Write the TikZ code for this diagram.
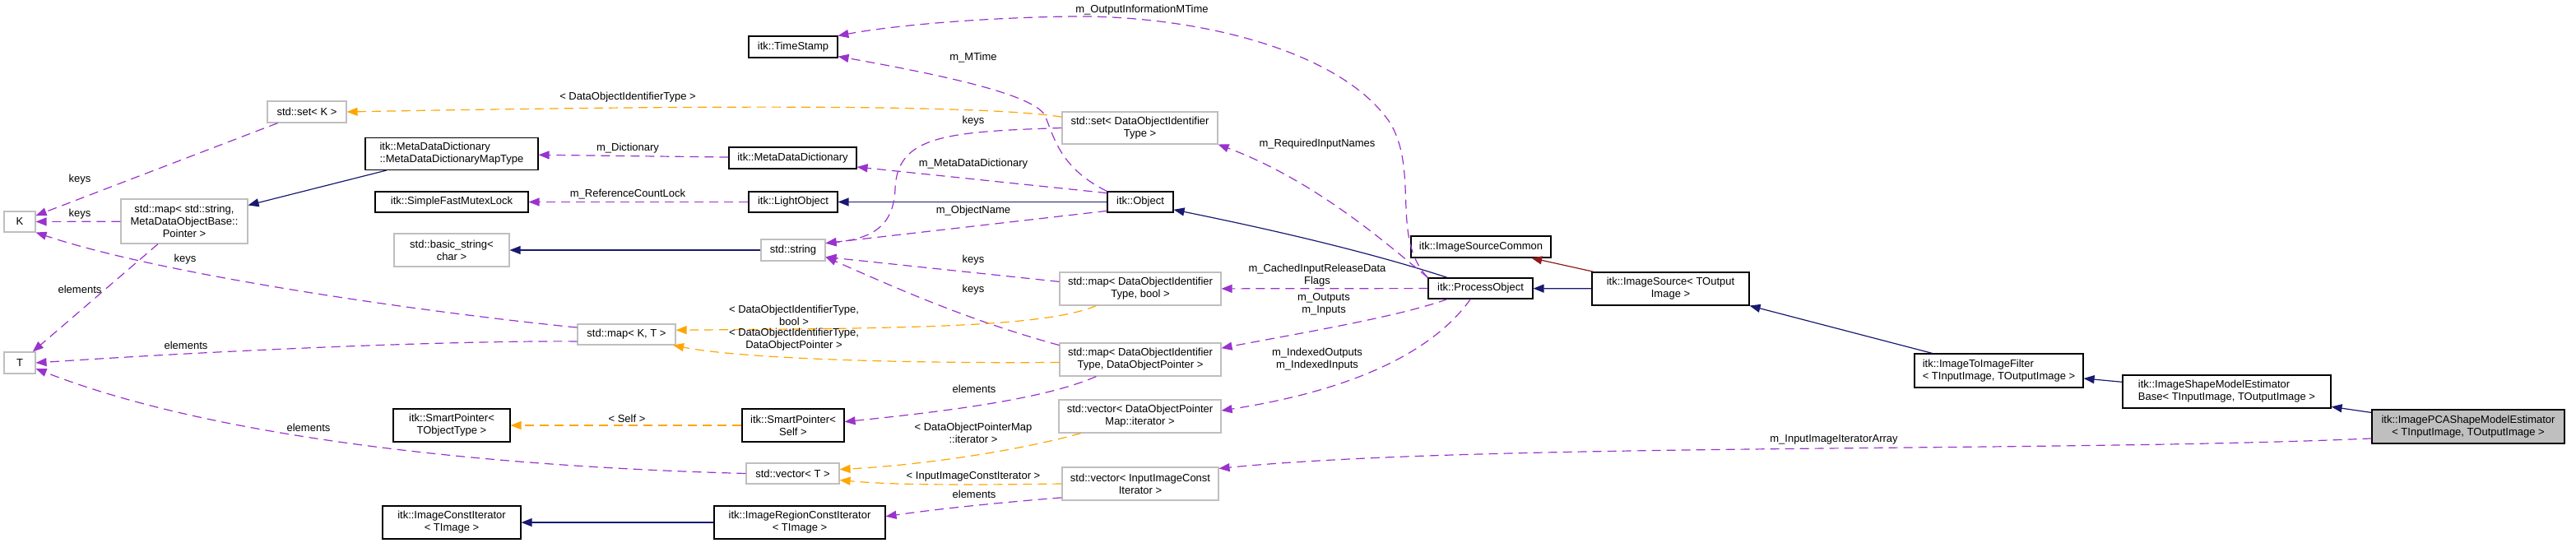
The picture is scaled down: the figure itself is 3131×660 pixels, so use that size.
\documentclass[tikz,border=0pt]{standalone}
\usepackage{fontspec}
\setmainfont{Liberation Sans}
\usetikzlibrary{arrows.meta}

\definecolor{usecol}{HTML}{9A32CD}
\definecolor{tplcol}{HTML}{FFA500}
\definecolor{inhcol}{HTML}{191970}
\definecolor{privcol}{HTML}{8B1A1A}
\definecolor{undoc}{HTML}{BFBFBF}

\tikzset{every picture/.style={line width=1.2pt}}
\tikzset{
  cls/.style={draw=black, rectangle, inner sep=0pt, align=center, line width=1.1pt, font=\fontsize{13}{15}\selectfont},
  undoccls/.style={cls, draw=undoc},
  lbl/.style={inner sep=0pt, align=center, font=\fontsize{13}{15}\selectfont},
  tip/.style={-{Triangle[length=13pt,width=10pt]}},
  uses/.style={tip, color=usecol, dash pattern=on 11pt off 7pt},
  tpl/.style={tip, color=tplcol, dash pattern=on 11pt off 7pt},
  inh/.style={tip, color=inhcol},
  priv/.style={tip, color=privcol}
}

\begin{document}
\begin{tikzpicture}[x=1pt,y=1pt,yscale=-1,xscale=1]
	\useasboundingbox (0,0) rectangle (3131,660);

	% Class boxes, left column
	\draw (24,269.5) node [undoccls, minimum width=38, minimum height=25] (K) {K};
	\draw (24,441) node [undoccls, minimum width=38, minimum height=26] (T) {T};
	\draw (373,136) node [undoccls, minimum width=96, minimum height=26] (setK) {std::set< K >};
	\draw (224,269) node [undoccls, minimum width=154, minimum height=54] (mapstr) {std::map< std::string,\\ MetaDataObjectBase::\\ Pointer >};

	% Class boxes, second column
	\draw (549,187) node [cls, align=left, minimum width=210, minimum height=39] (mddmap) {itk::MetaDataDictionary\\ ::MetaDataDictionaryMapType};
	\draw (549,245.5) node [cls, minimum width=186, minimum height=25] (mutex) {itk::SimpleFastMutexLock};
	\draw (549,304) node [undoccls, minimum width=140, minimum height=40] (basicstr) {std::basic\_string<\\ char >};
	\draw (549,517) node [cls, minimum width=142, minimum height=40] (sptrT) {itk::SmartPointer<\\ TObjectType >};
	\draw (549,635) node [cls, minimum width=168, minimum height=40] (imgci) {itk::ImageConstIterator\\ < TImage >};
	\draw (761.5,406.5) node [undoccls, minimum width=119, minimum height=25] (mapKT) {std::map< K, T >};

	% Class boxes, third column
	\draw (964,57) node [cls, minimum width=108, minimum height=26] (timestamp) {itk::TimeStamp};
	\draw (963.5,192) node [cls, minimum width=155, minimum height=26] (mdd) {itk::MetaDataDictionary};
	\draw (964,245.5) node [cls, minimum width=108, minimum height=25] (lightobj) {itk::LightObject};
	\draw (964,304) node [undoccls, minimum width=78, minimum height=26] (stdstring) {std::string};
	\draw (964,517) node [cls, minimum width=124, minimum height=40] (sptrSelf) {itk::SmartPointer<\\ Self >};
	\draw (963.5,575.5) node [undoccls, minimum width=113, minimum height=25] (vecT) {std::vector< T >};
	\draw (972,635) node [cls, minimum width=208, minimum height=40] (imgrci) {itk::ImageRegionConstIterator\\ < TImage >};

	% Class boxes, fourth column
	\draw (1385.5,155.5) node [undoccls, minimum width=189, minimum height=39] (setDOI) {std::set< DataObjectIdentifier\\ Type >};
	\draw (1386,245.5) node [cls, minimum width=80, minimum height=25] (object) {itk::Object};
	\draw (1386,351) node [undoccls, minimum width=196, minimum height=40] (mapDOIbool) {std::map< DataObjectIdentifier\\ Type, bool >};
	\draw (1386,437) node [undoccls, minimum width=196, minimum height=40] (mapDOIptr) {std::map< DataObjectIdentifier\\ Type, DataObjectPointer >};
	\draw (1385.5,506) node [undoccls, minimum width=197, minimum height=40] (vecDOPit) {std::vector< DataObjectPointer\\ Map::iterator >};
	\draw (1386,588) node [undoccls, minimum width=190, minimum height=40] (vecIIC) {std::vector< InputImageConst\\ Iterator >};

	% Class boxes, right part
	\draw (1800,300) node [cls, minimum width=170, minimum height=26] (isc) {itk::ImageSourceCommon};
	\draw (1799.5,350.5) node [cls, minimum width=127, minimum height=25] (procobj) {itk::ProcessObject};
	\draw (2030.5,351) node [cls, minimum width=191, minimum height=40] (imgsrc) {itk::ImageSource< TOutput\\ Image >};
	\draw (2429.5,450.5) node [cls, align=left, minimum width=205, minimum height=41] (i2i) {itk::ImageToImageFilter\\ < TInputImage, TOutputImage >};
	\draw (2706.5,476) node [cls, align=left, minimum width=253, minimum height=40] (isme) {itk::ImageShapeModelEstimator\\ Base< TInputImage, TOutputImage >};
	\draw (3000,518.5) node [cls, fill=undoc, minimum width=234, minimum height=41] (pca) {itk::ImagePCAShapeModelEstimator\\ < TInputImage, TOutputImage >};

	% Inheritance
	\draw [inh] (mddmap) -- (mapstr);
	\draw [inh] (stdstring) -- (basicstr);
	\draw [inh] (object) -- (lightobj);
	\draw [inh] (procobj.162) .. controls (1700,318) and (1600,290) .. (object.-13);
	\draw [inh] (imgsrc) -- (procobj);
	\draw [inh] (i2i) -- (imgsrc.south east);
	\draw [inh] (isme) -- (i2i);
	\draw [inh] (pca) -- (isme);
	\draw [inh] (imgrci) -- (imgci);
	\draw [priv] (imgsrc) -- (isc);

	% Members
	\draw [uses] (setK) -- (K);
	\draw [uses] (mapstr) -- (K);
	\draw [uses] (mapKT.172) .. controls (520,380) and (200,335) .. (K.south east);
	\draw [uses] (mapstr) -- (T);
	\draw [uses] (mapKT.188) .. controls (560,414) and (300,424) .. (T.east);
	\draw [uses] (vecT.west) .. controls (700,570) and (300,548) .. (T.-20);
	\draw [uses] (procobj.north west) .. controls (1690,290) and (1725,210) .. (1690,150) .. controls (1630,60) and (1450,18) .. (1300,20) .. controls (1180,22) and (1080,32) .. (timestamp.14);
	\draw [uses] (object.north west) .. controls (1290,205) and (1282,170) .. (1270,140) .. controls (1255,115) and (1150,92) .. (timestamp.-12);
	\draw [uses] (setDOI.west) .. controls (1150,160) and (1090,165) .. (1088,230) .. controls (1086,275) and (1060,290) .. (stdstring.12);
	\draw [uses] (object.165) -- (mdd.-8);
	\draw [uses] (object.195) -- (stdstring.12);
	\draw [uses] (mapDOIbool.175) -- (stdstring.-12);
	\draw [uses] (mapDOIptr.170) .. controls (1180,390) and (1100,355) .. (stdstring.-12);
	\draw [uses] (mdd) -- (mddmap);
	\draw [uses] (lightobj) -- (mutex);
	\draw [uses] (procobj.north west) .. controls (1690,300) and (1600,220) .. (setDOI.south east);
	\draw [uses] (procobj) -- (mapDOIbool);
	\draw [uses] (procobj.198) .. controls (1700,385) and (1580,405) .. (mapDOIptr.8);
	\draw [uses] (procobj.227) .. controls (1740,430) and (1640,475) .. (vecDOPit.4);
	\draw [uses] (pca.187) .. controls (2500,550) and (1800,538) .. (vecIIC.11);
	\draw [uses] (mapDOIptr.201) .. controls (1270,485) and (1150,500) .. (sptrSelf.4);
	\draw [uses] (vecIIC.190) .. controls (1200,612) and (1130,620) .. (imgrci.4);

	% Template instances
	\draw [tpl] (setDOI.172) .. controls (1200,128) and (900,127) .. (setK.east);
	\draw [tpl] (mapDOIbool.201) .. controls (1270,398) and (1100,399) .. (mapKT.5);
	\draw [tpl] (mapDOIptr.182) .. controls (1100,442) and (900,436) .. (mapKT.-13);
	\draw [tpl] (sptrSelf) -- (sptrT);
	\draw [tpl] (vecDOPit.196) .. controls (1230,550) and (1110,566) .. (vecT.5);
	\draw [tpl] (vecIIC.west) .. controls (1150,590) and (1080,589) .. (vecT.-8);

	% Text Node
	\draw (97,218) node [lbl] (l1) {keys};
	\draw (97,260) node [lbl] (l2) {keys};
	\draw (225,315) node [lbl] (l3) {keys};
	\draw (97,352) node [lbl] (l4) {elements};
	\draw (226,420) node [lbl] (l5) {elements};
	\draw (375,520) node [lbl] (l6) {elements};
	\draw (763,118) node [lbl] (l7) {< DataObjectIdentifierType >};
	\draw (763,180) node [lbl] (l8) {m\_Dictionary};
	\draw (763,236) node [lbl] (l9) {m\_ReferenceCountLock};
	\draw (965,383) node [lbl] (l10) {< DataObjectIdentifierType,\\ bool >};
	\draw (965,413) node [lbl] (l11) {< DataObjectIdentifierType,\\ DataObjectPointer >};
	\draw (762,509) node [lbl] (l12) {< Self >};
	\draw (1388,12) node [lbl] (l13) {m\_OutputInformationMTime};
	\draw (1183,70) node [lbl] (l14) {m\_MTime};
	\draw (1183,147) node [lbl] (l15) {keys};
	\draw (1183,199) node [lbl] (l16) {m\_MetaDataDictionary};
	\draw (1183,256) node [lbl] (l17) {m\_ObjectName};
	\draw (1183,316) node [lbl] (l18) {keys};
	\draw (1183,352) node [lbl] (l19) {keys};
	\draw (1184,473) node [lbl] (l20) {elements};
	\draw (1183,526) node [lbl] (l21) {< DataObjectPointerMap\\ ::iterator >};
	\draw (1183,579) node [lbl] (l22) {< InputImageConstIterator >};
	\draw (1184,601) node [lbl] (l23) {elements};
	\draw (1601,175) node [lbl] (l24) {m\_RequiredInputNames};
	\draw (1601,335) node [lbl] (l25) {m\_CachedInputReleaseData\\ Flags};
	\draw (1609,370) node [lbl] (l26) {m\_Outputs\\ m\_Inputs};
	\draw (1601,437) node [lbl] (l27) {m\_IndexedOutputs\\ m\_IndexedInputs};
	\draw (2229,534) node [lbl] (l28) {m\_InputImageIteratorArray};
\end{tikzpicture}
\end{document}
